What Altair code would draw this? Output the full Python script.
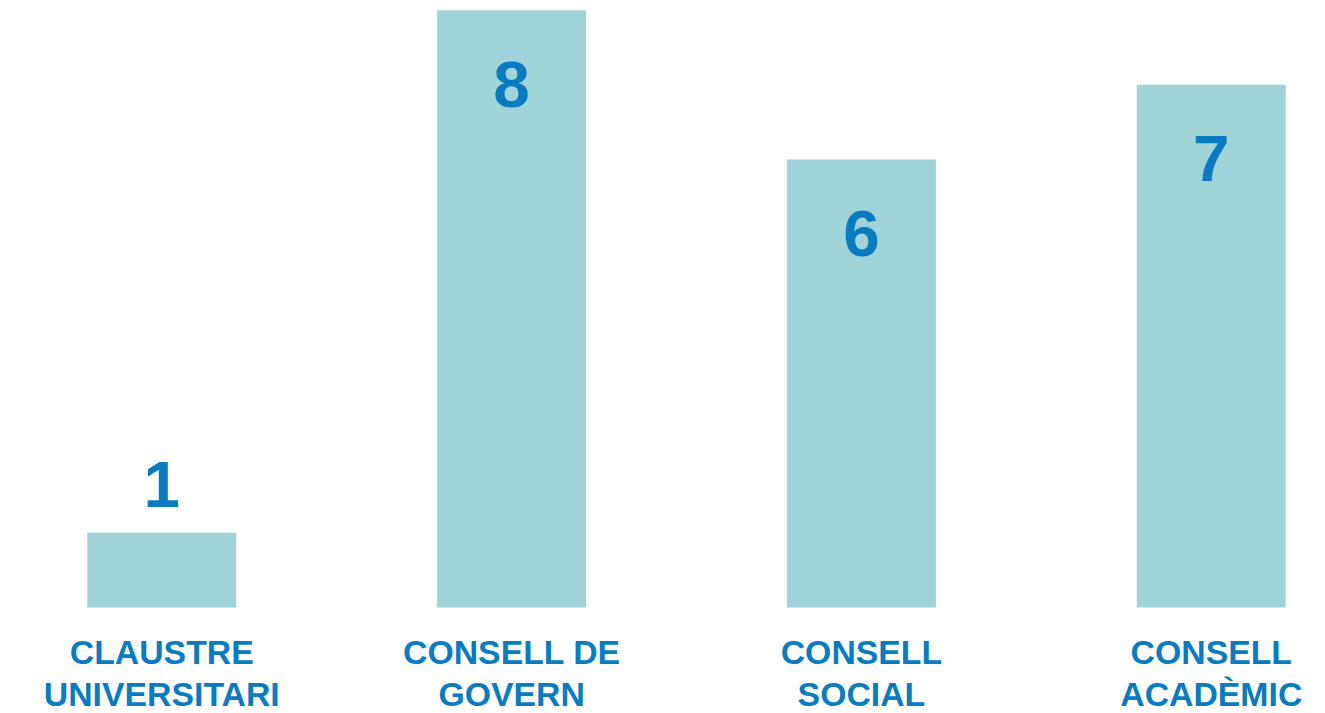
import altair as alt
import pandas as pd

categories = ["CLAUSTRE\nUNIVERSITARI", "CONSELL DE\nGOVERN", "CONSELL\nSOCIAL", "CONSELL\nACADÈMIC"]
values = [1, 8, 6, 7]

BLUE = "#0a7bbf"
TEAL = "#a1d4d8"
FONT = "Liberation Sans"

df = pd.DataFrame({"organ": categories, "value": values})

x = alt.X(
    "organ:N",
    sort=categories,
    title=None,
    scale=alt.Scale(paddingInner=0.574, paddingOuter=0.1465, align=0.773),
    axis=alt.Axis(
        labelExpr="split(datum.label, '\\n')",
        labelAngle=0,
        labelFontSize=34,
        labelFont=FONT,
        labelFontWeight="bold",
        labelColor=BLUE,
        labelLineHeight=43,
        labelPadding=29,
        labelLimit=0,
        domain=False,
        ticks=False,
        grid=False,
    ),
)
y = alt.Y("value:Q", scale=alt.Scale(domain=[0, 8], nice=False, zero=True), axis=None)

base = alt.Chart(df)

bars = base.mark_bar(color=TEAL).encode(x=x, y=y)

inside = base.transform_filter("datum.value >= 2").mark_text(
    font=FONT, fontSize=66, fontWeight="bold", color=BLUE, baseline="alphabetic", dy=97
).encode(x=alt.X("organ:N", sort=categories), y=y, text="value:Q")

outside = base.transform_filter("datum.value < 2").mark_text(
    font=FONT, fontSize=66, fontWeight="bold", color=BLUE, baseline="alphabetic", dy=-26
).encode(x=alt.X("organ:N", sort=categories), y=y, text="value:Q")

chart = (
    alt.layer(bars, inside, outside)
    .properties(
        width=1309,
        height=601,
        autosize=alt.AutoSizeParams(type="none"),
        padding={"left": 0, "top": 0, "right": 8, "bottom": 104},
        background="white",
    )
    .configure_view(strokeWidth=0)
)

chart.save("out.html", embed_options={"renderer": "svg", "actions": False})
